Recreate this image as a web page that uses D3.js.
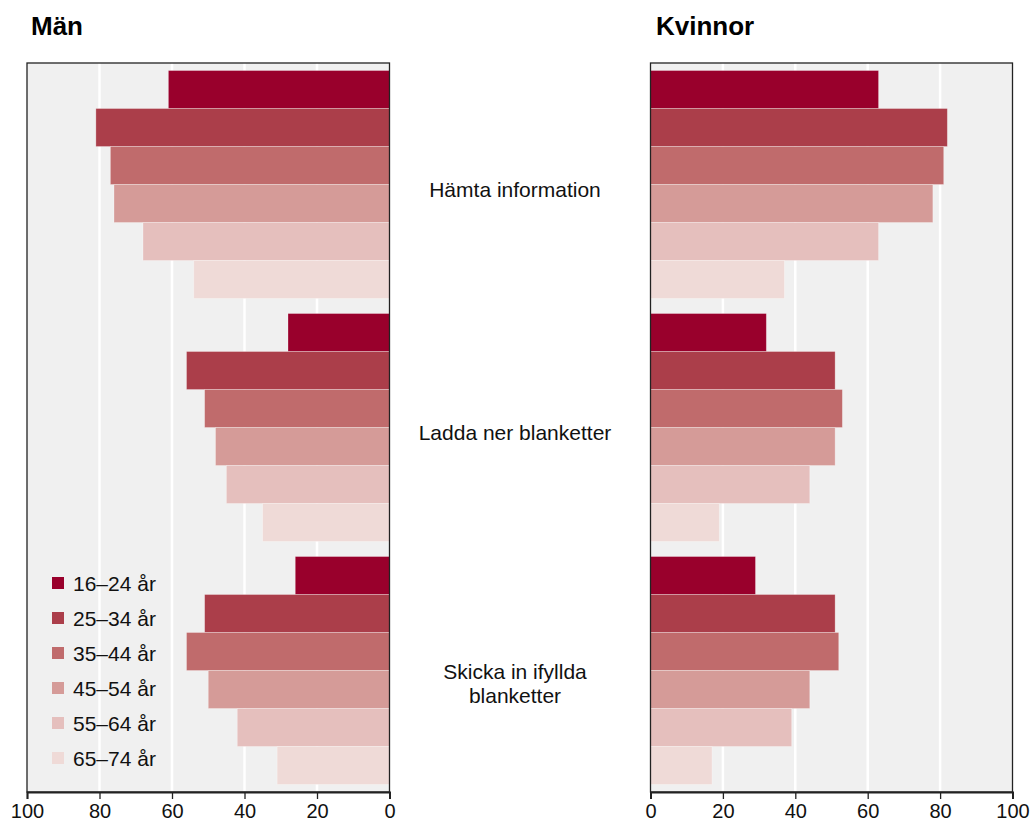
<!DOCTYPE html>
<html><head><meta charset="utf-8">
<script src="https://cdn.jsdelivr.net/npm/d3@7"></script>
<style>body{margin:0;background:#fff;font-family:"Liberation Sans",Arial,sans-serif}</style>
</head><body><svg id="c" width="1031" height="829"></svg>
<script>
const categories = ["Hämta information", "Ladda ner blanketter", "Skicka in ifyllda blanketter"];
const categoryLines = [["Hämta information"], ["Ladda ner blanketter"], ["Skicka in ifyllda", "blanketter"]];
const ageGroups = ["16–24 år", "25–34 år", "35–44 år", "45–54 år", "55–64 år", "65–74 år"];
const colors = ["#99002c", "#ab3e4a", "#c06b6c", "#d59b98", "#e5bfbd", "#efdad7"];
// values per category, per age group
const menValues = [
  [61, 81, 77, 76, 68, 54],
  [28, 56, 51, 48, 45, 35],
  [26, 51, 56, 50, 42, 31]
];
const womenValues = [
  [63, 82, 81, 78, 63, 37],
  [32, 51, 53, 51, 44, 19],
  [29, 51, 52, 44, 39, 17]
];
const tickValues = [0, 20, 40, 60, 80, 100];
const panelTitles = ["Män", "Kvinnor"];

const svg = d3.select("#c");
const plotTop = 63, plotBottom = 792;

const yGroup = d3.scaleBand().domain(categories).range([plotTop, plotBottom]).paddingInner(0.062).paddingOuter(0.031);
const yAge = d3.scaleBand().domain(ageGroups).range([0, yGroup.bandwidth()]);

const xMen = d3.scaleLinear().domain([100, 0]).range([27, 389.5]);
const xWomen = d3.scaleLinear().domain([0, 100]).range([650.5, 1012.5]);

function panel(x, values, title, titleX) {
  const g = svg.append("g");
  const [x0, x1] = x.range();
  const left = Math.min(x0, x1), right = Math.max(x0, x1);
  g.append("rect").attr("x", left).attr("y", plotTop).attr("width", right - left).attr("height", plotBottom - plotTop).attr("fill", "#f0f0f0");
  g.selectAll("line.grid").data(tickValues.filter(d => d > 0 && d < 100)).join("line")
    .attr("x1", d => x(d)).attr("x2", d => x(d)).attr("y1", plotTop).attr("y2", plotBottom)
    .attr("stroke", "#fff").attr("stroke-width", 2.5);
  categories.forEach((c, ci) => {
    g.selectAll(null).data(values[ci]).join("rect")
      .attr("x", d => Math.min(x(0), x(d)))
      .attr("width", d => Math.abs(x(d) - x(0)))
      .attr("y", (d, i) => yGroup(c) + yAge(ageGroups[i]))
      .attr("height", yAge.bandwidth())
      .attr("fill", (d, i) => colors[i])
      .attr("stroke", "rgba(255,255,255,0.35)").attr("stroke-width", 0.8);
  });
  g.append("rect").attr("x", left).attr("y", plotTop).attr("width", right - left).attr("height", plotBottom - plotTop)
    .attr("fill", "none").attr("stroke", "#222").attr("stroke-width", 1.3);
  const ax = g.append("g").attr("transform", `translate(0,${plotBottom})`)
    .call(d3.axisBottom(x).tickValues(tickValues).tickSize(7).tickPadding(5));
  ax.select(".domain").attr("stroke", "#222").attr("stroke-width", 2);
  ax.selectAll(".tick line").attr("stroke", "#222").attr("stroke-width", 1.3);
  ax.selectAll("text").attr("font-size", 20).attr("font-family", "Liberation Sans, Arial, sans-serif").attr("fill", "#111");
  svg.append("text").attr("x", titleX).attr("y", 35).text(title)
    .attr("font-size", 26).attr("font-weight", "bold").attr("fill", "#000");
}

panel(xMen, menValues, panelTitles[0], 31);
panel(xWomen, womenValues, panelTitles[1], 656);

// category labels
categories.forEach((c, ci) => {
  const lines = categoryLines[ci];
  const cy = yGroup(c) + yGroup.bandwidth() / 2;
  const t = svg.append("text").attr("text-anchor", "middle").attr("font-size", 21).attr("fill", "#111");
  lines.forEach((l, li) => {
    t.append("tspan").attr("x", 515)
      .attr("y", lines.length === 1 ? cy + 12.5 : cy + 8.5 + li * 24).text(l);
  });
});

// legend
const lg = svg.append("g");
ageGroups.forEach((a, i) => {
  const yy = 583 + i * 35;
  lg.append("rect").attr("x", 52).attr("y", yy - 6).attr("width", 12).attr("height", 12).attr("fill", colors[i]);
  lg.append("text").attr("x", 73).attr("y", yy + 8).attr("font-size", 21).attr("fill", "#111").text(a);
});
</script></body></html>
